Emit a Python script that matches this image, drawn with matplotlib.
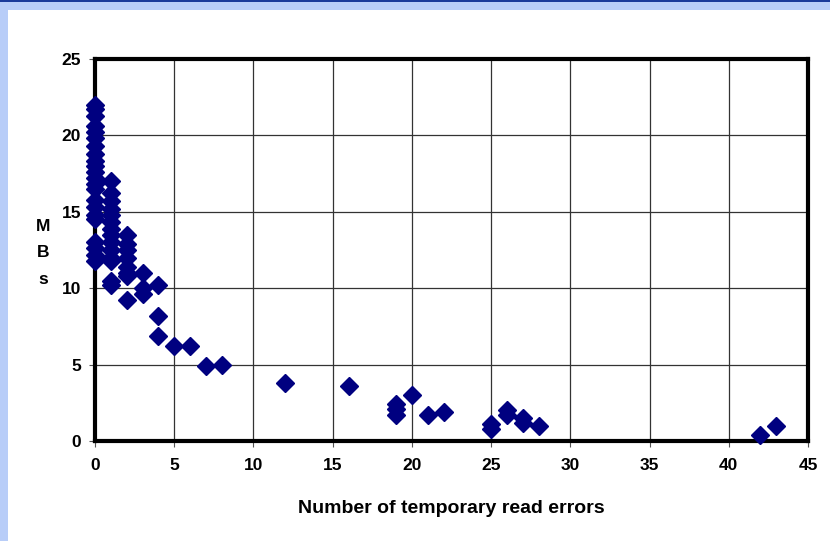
import matplotlib
matplotlib.use('Agg')
from matplotlib import pyplot as plt
from matplotlib.patches import Rectangle

# read errors vs throughput (MBs)
errors = [0] * 22 + [1] * 14 + [2] * 8 + [3] * 3 + [4] * 3 + \
         [5, 6, 7, 8, 12, 16, 19, 19, 19, 20, 21, 22, 25, 25, 26, 26, 27, 27, 28, 42, 43]
mbs = [22.0, 21.7, 21.3, 20.6, 20.2, 19.8, 19.3, 18.8, 18.3, 18.0, 17.6, 17.2,
       16.8, 16.5, 15.8, 15.3, 14.8, 14.5, 13.0, 12.6, 12.2, 11.8,
       17.0, 16.2, 15.7, 15.2, 14.8, 14.3, 13.9, 13.5, 13.0, 12.5, 12.0, 11.8, 10.5, 10.2,
       13.5, 12.9, 12.5, 12.0, 11.4, 11.0, 10.8, 9.2,
       11.0, 10.0, 9.6,
       10.2, 8.2, 6.9,
       6.2, 6.2, 4.9, 5.0, 3.8, 3.6, 2.4, 2.1, 1.7, 3.0, 1.7, 1.9, 1.1, 0.8,
       2.0, 1.7, 1.5, 1.2, 1.0, 0.4, 1.0]

xticks = list(range(0, 50, 5))
yticks = list(range(0, 30, 5))

plt.rcParams['font.family'] = ['Liberation Sans', 'DejaVu Sans']
plt.rcParams['font.weight'] = 'bold'

fig = plt.figure(figsize=(8.3, 5.41), dpi=100)
fig.patch.set_facecolor('white')

# light blue slide border at top and left
fig.patches.append(Rectangle((0, 1 - 10 / 541), 1, 10 / 541, transform=fig.transFigure,
                             facecolor='#b8cdf8', edgecolor='none', zorder=0))
fig.patches.append(Rectangle((0, 0), 8 / 830, 1, transform=fig.transFigure,
                             facecolor='#b8cdf8', edgecolor='none', zorder=0))
fig.patches.append(Rectangle((0, 1 - 2 / 541), 1, 2 / 541, transform=fig.transFigure,
                             facecolor='#1a3a9a', edgecolor='none', zorder=0))

ax = fig.add_axes([95 / 830, 1 - 441 / 541, (808 - 95) / 830, (441 - 59) / 541])
ax.set_facecolor('white')

ax.plot(errors, mbs, linestyle='none', marker='D', markersize=9.5,
        color='#000080', markeredgecolor='#000080', zorder=3, clip_on=False)

ax.set_xlim(0, 45)
ax.set_ylim(0, 25)
ax.set_xticks(xticks)
ax.set_yticks(yticks)
ax.grid(True, color='#333333', linewidth=0.9)
ax.set_axisbelow(True)

for s in ax.spines.values():
    s.set_linewidth(3)
    s.set_color('black')

ax.tick_params(axis='both', direction='out', length=4, width=0.8, color='#555555',
               labelsize=12.5, pad=6)
ax.tick_params(axis='x', pad=8)

ax.set_xlabel('Number of temporary read errors', fontsize=14, fontweight='bold', labelpad=20)
fig.text(43 / 830, 1 - 253 / 541, 'M\nB\ns', fontsize=12.5, fontweight='bold',
         ha='center', va='center', linespacing=1.95)

fig.savefig('out.png', dpi=100, facecolor=fig.get_facecolor())
